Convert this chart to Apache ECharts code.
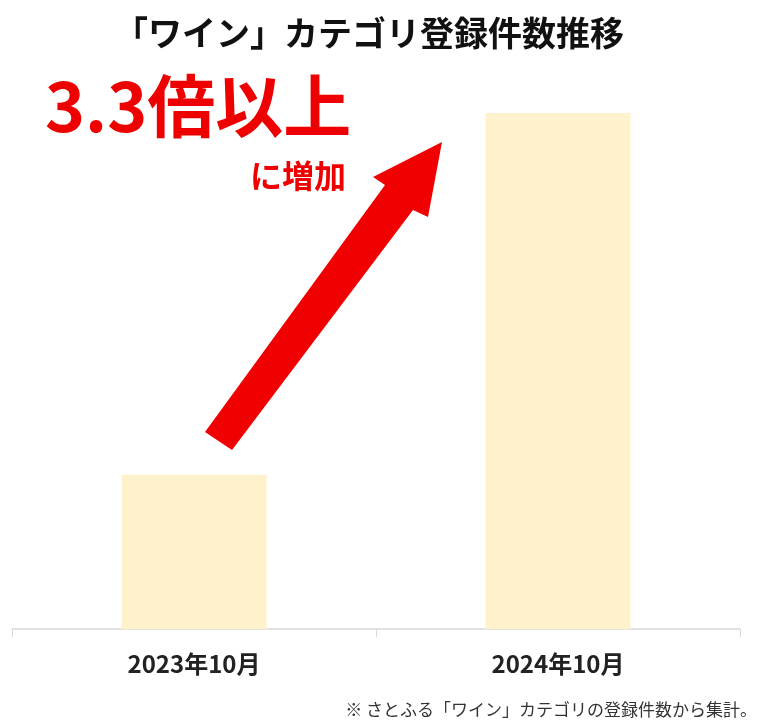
<!DOCTYPE html>
<html>
<head>
<meta charset="utf-8">
<script src="https://cdn.jsdelivr.net/npm/echarts@6/dist/echarts.min.js"></script>
<style>
  html, body { margin: 0; padding: 0; background: #fff; }
  #chart { width: 765px; height: 722px; }
</style>
</head>
<body>
<div id="chart"></div>
<script>
// 登録件数（相対値、画像から読み取り）
const months = ["2023年10月", "2024年10月"];
const counts = [154, 515];

const FONT = '"Noto Sans CJK JP", "Noto Sans", sans-serif';

let chart = echarts.init(document.getElementById("chart"));
chart.setOption({
    backgroundColor: "#fff",
    animation: false,
    title: {
        text: "「ワイン」カテゴリ登録件数推移",
        left: 364,
        textAlign: "center",
        top: 11,
        textStyle: {
            fontFamily: FONT,
            fontSize: 34,
            fontWeight: "bold",
            color: "#111",
        },
    },
    grid: {
        left: 12,
        right: 25,
        top: 113,
        bottom: 93,
    },
    xAxis: {
        type: "category",
        data: months,
        axisLine: { lineStyle: { color: "#d9d9d9", width: 1.5 } },
        axisTick: { show: true, length: 8, lineStyle: { color: "#d9d9d9" } },
        axisLabel: {
            margin: 23,
            fontFamily: FONT,
            fontSize: 24,
            fontWeight: "bold",
            color: "#222",
        },
    },
    yAxis: {
        type: "value",
        min: 0,
        max: "dataMax",
        show: false,
        splitLine: { show: false },
    },
    series: [
        {
            type: "bar",
            data: counts,
            barWidth: 145,
            itemStyle: { color: "#fdf2cc" },
        },
    ],
    graphic: [
        {
            // 上昇の矢印
            type: "polygon",
            shape: {
                points: [
                    [205, 432], [385, 185], [373, 177], [442, 142],
                    [428, 217], [413, 210], [232, 450],
                ],
            },
            style: { fill: "#f00000" },
            z: 10,
        },
        {
            type: "text",
            left: 45,
            top: 72,
            style: {
                text: "3.3倍以上",
                font: 'bold 68px ' + FONT,
                fill: "#ee0000",
            },
            z: 10,
        },
        {
            type: "text",
            left: 250,
            top: 160,
            style: {
                text: "に増加",
                font: 'bold 32px ' + FONT,
                fill: "#ee0000",
            },
            z: 10,
        },
        {
            type: "text",
            right: 8,
            top: 701,
            style: {
                text: "※ さとふる「ワイン」カテゴリの登録件数から集計。",
                font: '17px ' + FONT,
                fill: "#333",
            },
        },
    ],
});
window.addEventListener("resize", function () {
    chart.resize();
});
</script>
</body>
</html>
